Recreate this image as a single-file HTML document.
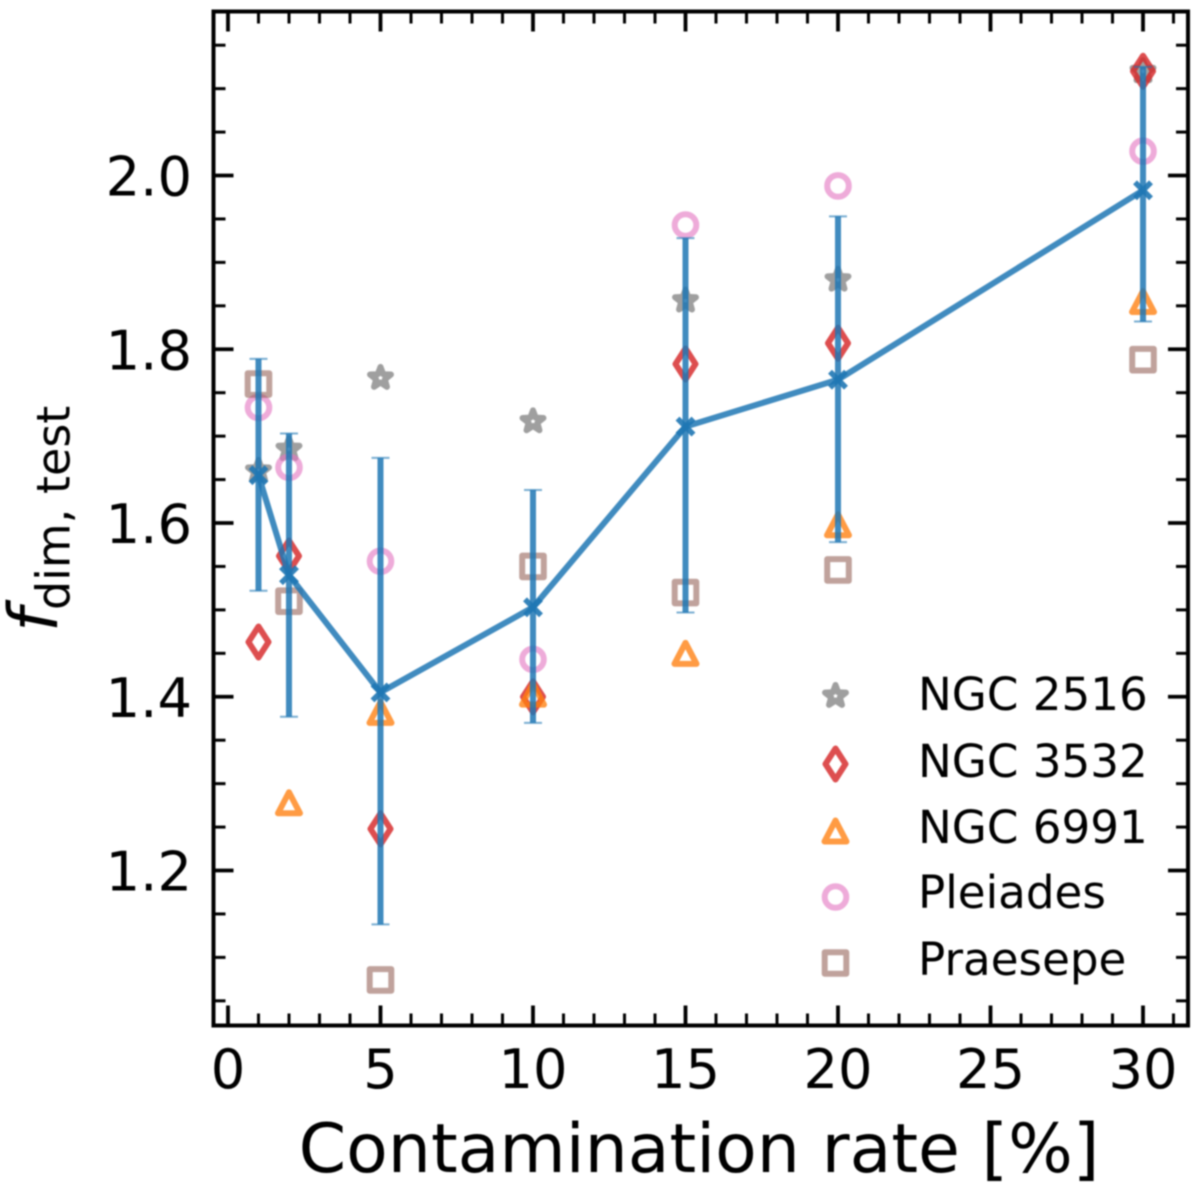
<!DOCTYPE html>
<html>
<head>
<meta charset="utf-8">
<title>Contamination rate chart</title>
<style>
html,body{margin:0;padding:0;background:#fff;}
svg{display:block;filter:blur(0.7px);}
text{font-family:"DejaVu Sans","Liberation Sans",sans-serif;fill:#000;}
</style>
</head>
<body>
<svg id="chart" width="1200" height="1190" viewBox="0 0 1200 1190" xmlns="http://www.w3.org/2000/svg">
  <rect x="0" y="0" width="1200" height="1190" fill="#fff"/>
  <g id="series"></g>
  <g id="mean"></g>
  <g id="ticks"></g>
  <rect x="213.5" y="11.5" width="974.5" height="1014" fill="none" stroke="#000" stroke-width="4"/>
  <g id="xlabels"></g>
  <g id="ylabels"></g>
  <text x="699" y="1172" font-size="68.1" text-anchor="middle">Contamination rate [%]</text>
  <text transform="translate(57,632) rotate(-90)" font-size="68"><tspan font-style="italic">f</tspan><tspan font-size="46" dy="12.5" dx="-2">dim, test</tspan></text>
  <g id="legend"></g>
</svg>
<script>
// Chart data
const rates = [1, 2, 5, 10, 15, 20, 30];
const ngc2516 = [1.660, 1.685, 1.767, 1.717, 1.856, 1.880, 2.120];
const ngc3532 = [1.463, 1.562, 1.248, 1.400, 1.783, 1.807, 2.120];
const ngc6991 = [null, 1.278, 1.382, 1.403, 1.450, 1.598, 1.855];
const pleiades = [1.733, 1.664, 1.556, 1.443, 1.943, 1.988, 2.028];
const praesepe = [1.760, 1.510, 1.074, 1.550, 1.520, 1.546, 1.788];
const meanValues = [1.655, 1.540, 1.405, 1.503, 1.711, 1.765, 1.983];
const errorUpper = [1.789, 1.703, 1.675, 1.638, 1.928, 1.953, 2.125];
const errorLower = [1.522, 1.377, 1.138, 1.370, 1.497, 1.578, 1.832];
const xTickLabels = ["0", "5", "10", "15", "20", "25", "30"];
const yTickLabels = ["1.2", "1.4", "1.6", "1.8", "2.0"];

// Axis functions
const X_MIN = -0.475, X_MAX = 31.475, Y_MIN = 1.0216, Y_MAX = 2.1888;
const LEFT = 213.5, RIGHT = 1188, TOP = 11.5, BOTTOM = 1025.5;
function xScale(v) { return LEFT + (v - X_MIN) / (X_MAX - X_MIN) * (RIGHT - LEFT); }
function yScale(v) { return BOTTOM - (v - Y_MIN) / (Y_MAX - Y_MIN) * (BOTTOM - TOP); }

const NS = "http://www.w3.org/2000/svg";
function make(tag, attrs, parent) {
  const el = document.createElementNS(NS, tag);
  for (const k in attrs) el.setAttribute(k, attrs[k]);
  parent.appendChild(el);
  return el;
}

// Marker shapes
function starPath(cx, cy) {
  let d = "";
  for (let i = 0; i < 10; i++) {
    const r = i % 2 === 0 ? 11 : 4.6;
    const a = -Math.PI / 2 + i * Math.PI / 5;
    d += (i ? "L" : "M") + (cx + r * Math.cos(a)).toFixed(2) + " " + (cy + r * Math.sin(a)).toFixed(2);
  }
  return d + "Z";
}
function drawMarker(kind, cx, cy, parent) {
  const common = { fill: "none", "stroke-linejoin": "round" };
  if (kind === "star") {
    return make("path", Object.assign({}, common, { d: starPath(cx, cy), stroke: "#7f7f7f", "stroke-width": 6, opacity: 0.75 }), parent);
  }
  if (kind === "diamond") {
    return make("path", Object.assign({}, common, { d: `M${cx} ${cy - 15.5}L${cx + 10} ${cy}L${cx} ${cy + 15.5}L${cx - 10} ${cy}Z`, stroke: "#d62728", "stroke-width": 6, opacity: 0.82 }), parent);
  }
  if (kind === "triangle") {
    return make("path", Object.assign({}, common, { d: `M${cx} ${cy - 10.5}L${cx + 11} ${cy + 10.5}L${cx - 11} ${cy + 10.5}Z`, stroke: "#ff7f0e", "stroke-width": 6, opacity: 0.78 }), parent);
  }
  if (kind === "circle") {
    return make("circle", { cx: cx, cy: cy, r: 10.8, fill: "none", stroke: "#e377c2", "stroke-width": 6, opacity: 0.62 }, parent);
  }
  return make("rect", Object.assign({}, common, { x: cx - 10.8, y: cy - 10.8, width: 21.6, height: 21.6, stroke: "#8c564b", "stroke-width": 6, opacity: 0.55 }), parent);
}

// Scatter series
const seriesLayer = document.getElementById("series");
[["star", ngc2516, "ngc-2516"], ["diamond", ngc3532, "ngc-3532"], ["triangle", ngc6991, "ngc-6991"], ["circle", pleiades, "pleiades"], ["square", praesepe, "praesepe"]].forEach(function (s) {
  s[1].forEach(function (v, i) {
    if (v === null) return;
    const m = drawMarker(s[0], xScale(rates[i]), yScale(v), seriesLayer);
    
    
  });
});

// Mean line, error bars and x markers
const meanLayer = document.getElementById("mean");
const BLUE = "#1f77b4";
const linePoints = rates.map(function (r, i) { return xScale(r).toFixed(2) + "," + yScale(meanValues[i]).toFixed(2); }).join(" ");
const meanLine = make("polyline", { points: linePoints, fill: "none", stroke: BLUE, "stroke-width": 6, opacity: 0.85, "stroke-linejoin": "round" }, meanLayer);


rates.forEach(function (r, i) {
  const cx = xScale(r), top = yScale(errorUpper[i]), bot = yScale(errorLower[i]), my = yScale(meanValues[i]);
  const bar = make("line", { x1: cx, x2: cx, y1: top, y2: bot, stroke: BLUE, "stroke-width": 6, opacity: 0.85 }, meanLayer);
  
  
  [top, bot].forEach(function (cy) {
    const cap = make("line", { x1: cx - 9, x2: cx + 9, y1: cy, y2: cy, stroke: BLUE, "stroke-width": 2, opacity: 0.6 }, meanLayer);
    
    
  });
  const mark = make("path", { d: `M${cx - 8} ${my - 8}L${cx + 8} ${my + 8}M${cx - 8} ${my + 8}L${cx + 8} ${my - 8}`, stroke: BLUE, "stroke-width": 5.5, fill: "none", opacity: 0.9 }, meanLayer);
  
  
});

// Ticks
const tickLayer = document.getElementById("ticks");
function tick(x1, y1, x2, y2, major) {
  const t = make("line", { x1: x1, y1: y1, x2: x2, y2: y2, stroke: "#000", "stroke-width": major ? 3.8 : 3 }, tickLayer);
  
  
}
for (let v = 0; v <= 31; v++) {
  const major = v % 5 === 0, len = major ? 20 : 12, x = xScale(v);
  tick(x, BOTTOM, x, BOTTOM - len, major);
  tick(x, TOP, x, TOP + len, major);
}
for (let k = 21; k <= 43; k++) {
  const major = k % 4 === 0, len = major ? 20 : 12, y = yScale(k * 0.05);
  tick(LEFT, y, LEFT + len, y, major);
  tick(RIGHT, y, RIGHT - len, y, major);
}

// Tick labels
const xLabels = document.getElementById("xlabels");
xTickLabels.forEach(function (label) {
  const t = make("text", { x: xScale(Number(label)), y: 1088, "font-size": 54.3, "text-anchor": "middle" }, xLabels);
  t.textContent = label;
  
  
});
const yLabels = document.getElementById("ylabels");
yTickLabels.forEach(function (label) {
  const t = make("text", { x: 192, y: yScale(Number(label)) + 20, "font-size": 54.3, "text-anchor": "end" }, yLabels);
  t.textContent = label;
  
  
});

// Legend
const legendLayer = document.getElementById("legend");
const legendNames = ["NGC 2516", "NGC 3532", "NGC 6991", "Pleiades", "Praesepe"];
const legendKinds = ["star", "diamond", "triangle", "circle", "square"];
const legendMarkerY = [696, 764, 831, 897, 963];
const legendTextY = [710, 777, 843, 908, 975];
legendNames.forEach(function (name, i) {
  const m = drawMarker(legendKinds[i], 835.5, legendMarkerY[i], legendLayer);
  
  
  const t = make("text", { x: 918, y: legendTextY[i], "font-size": 45.2 }, legendLayer);
  t.textContent = name;
  
  
});
</script>
</body>
</html>
